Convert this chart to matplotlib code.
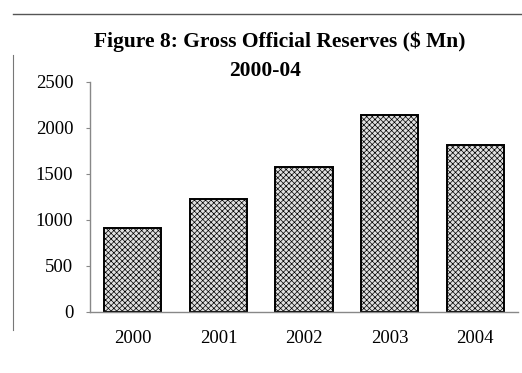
import matplotlib.pyplot as plt
from matplotlib.lines import Line2D

plt.rcParams.update({
    "font.family": "Liberation Serif",
    "hatch.linewidth": 0.5,
    "hatch.color": "#3a3a3a",
})

years = ["2000", "2001", "2002", "2003", "2004"]
reserves = [910, 1230, 1575, 2140, 1820]
yticks = [0, 500, 1000, 1500, 2000, 2500]

fig = plt.figure(figsize=(5.22, 3.73), dpi=100)
ax = fig.add_axes([90 / 522, 1 - 312 / 373, 428 / 522, 230 / 373])

ax.bar(range(len(years)), reserves, width=0.67, facecolor="#e0e0e0",
       edgecolor="black", linewidth=1.4, hatch="xxxxxx")

ax.set_xlim(-0.5, len(years) - 0.5)
ax.set_ylim(0, 2500)
ax.set_yticks(yticks)
ax.set_xticks(range(len(years)))
ax.set_xticklabels(years)

for side in ["top", "right"]:
    ax.spines[side].set_visible(False)
ax.spines["left"].set_color("#888888")
ax.spines["bottom"].set_color("#888888")
ax.spines["left"].set_linewidth(1.0)
ax.spines["bottom"].set_linewidth(1.0)
ax.tick_params(axis="y", direction="out", length=3, color="#888888",
               pad=9, labelsize=13.5)
ax.tick_params(axis="x", length=0, pad=13, labelsize=13.5)

# title (two lines)
fig.text(280 / 522, 1 - 42 / 373, "Figure 8: Gross Official Reserves ($ Mn)",
         ha="center", va="center", fontsize=15.5, fontweight="bold")
fig.text(265 / 522, 1 - 71 / 373, "2000-04",
         ha="center", va="center", fontsize=15.5, fontweight="bold")

# page frame lines from the source document
fig.add_artist(Line2D([13 / 522, 1], [1 - 14 / 373, 1 - 14 / 373],
                      color="#555555", linewidth=1.0))
fig.add_artist(Line2D([13 / 522, 13 / 522], [1 - 55 / 373, 1 - 330 / 373],
                      color="#777777", linewidth=0.8))

fig.savefig("out.png", dpi=100)
